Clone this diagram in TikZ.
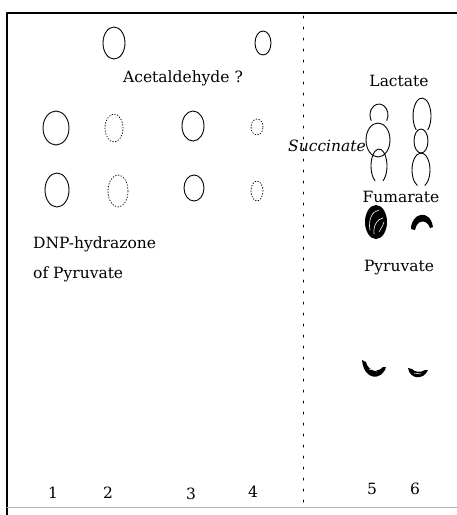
\documentclass[tikz,border=0pt]{standalone}
\usepackage{fontspec}
\setmainfont{DejaVu Serif}
\usepackage{tikz}

\begin{document}
\begin{tikzpicture}[x=1pt, y=-1pt, line join=round, line cap=round]
      \tikzset{
        spot/.style={line width=0.9pt},
        faintspot/.style={line width=0.8pt, dotted},
        lbl/.style={font=\fontsize{15.5}{18}\selectfont, inner sep=0pt}
      }
      \useasboundingbox (0,0) rectangle (457,515);

      % Frame and lane divider
      \draw[line width=1.4pt] (7,515) -- (7,13) -- (457,13);
      \draw[gray!60, line width=0.6pt] (7,507) -- (457,507);
      \draw[line width=1pt, dash pattern=on 2pt off 9pt] (303,16) -- (303,510);

      % Acetaldehyde
      \draw[spot] (114,43) ellipse[x radius=11pt, y radius=16pt];
      \draw[spot] (263,43) ellipse[x radius=8pt, y radius=12pt];
      \node[lbl] (acet) at (183,78) {Acetaldehyde ?};

      % Upper row (lanes 1-4)
      \draw[spot] (56,128) ellipse[x radius=13pt, y radius=17pt];
      \draw[faintspot] (114,128) ellipse[x radius=9pt, y radius=14pt];
      \draw[spot] (193,126) ellipse[x radius=11pt, y radius=15pt];
      \draw[faintspot] (257,127) ellipse[x radius=6pt, y radius=8pt];
      % Lower row (lanes 1-4)
      \draw[spot] (57,190) ellipse[x radius=12pt, y radius=17pt];
      \draw[faintspot] (118,191) ellipse[x radius=10pt, y radius=16pt];
      \draw[spot] (194,188) ellipse[x radius=10pt, y radius=13pt];
      \draw[faintspot] (257,191) ellipse[x radius=6pt, y radius=10pt];

      \node[lbl, anchor=west] (dnp) at (33,244) {DNP-hydrazone};
      \node[lbl, anchor=west] (ofpyr) at (33,274) {of Pyruvate};

      % Lanes 5 and 6
      \node[lbl] (lact) at (399,81) {Lactate};
      \node[lbl] (succ) at (327,146) {\itshape Succinate};

      \draw[spot] ([shift={(-30:9pt and 11pt)}]379,115) arc[start angle=-30, end angle=210, x radius=9pt, y radius=11pt];
      \draw[spot] (378,140) ellipse[x radius=12pt, y radius=17pt];
      \draw[spot] ([shift={(-60:8pt and 17pt)}]379,166) arc[start angle=-60, end angle=240, x radius=8pt, y radius=17pt];

      \draw[spot] ([shift={(-50:9pt and 18pt)}]422,116) arc[start angle=-50, end angle=230, x radius=9pt, y radius=18pt];
      \draw[spot] (421,141) ellipse[x radius=7pt, y radius=12pt];
      \draw[spot] ([shift={(-65:9pt and 17pt)}]421,170) arc[start angle=-65, end angle=245, x radius=9pt, y radius=17pt];

      \node[lbl] (fum) at (401,197) {Fumarate};

      % dark spots
      \fill (376,222) ellipse[x radius=11pt, y radius=17pt];
      \draw[white, line width=0.6pt] (370,230) .. controls (368,220) and (372,211) .. (379,210);
      \draw[white, line width=0.6pt] (374,234) .. controls (373,226) and (377,219) .. (383,218);
      \draw[white, line width=0.5pt] (379,232) .. controls (381,228) and (383,226) .. (384,222);
      \fill (411,229) .. controls (411,213) and (430,208) .. (433,227) -- (430,228) .. controls (427,219) and (417,219) .. (415,230) -- cycle;

      \node[lbl] (pyr) at (399,268) {Pyruvate};

      \fill (362,360) -- (366,362) .. controls (368,371) and (378,373) .. (383,367) -- (386,367) .. controls (382,381) and (364,381) .. (362,360) -- cycle;
      \draw[white, line width=0.6pt] (369,369) -- (377,371);
      \fill (408,368) -- (412,369) .. controls (414,372) and (421,373) .. (425,370) -- (428,370) .. controls (424,380) and (410,380) .. (408,368) -- cycle;
      \draw[white, line width=0.5pt] (414,373) -- (421,374);

      % lane numbers
      \node[lbl] (n1) at (53,493) {1};
      \node[lbl] (n2) at (108,493) {2};
      \node[lbl] (n3) at (191,494) {3};
      \node[lbl] (n4) at (253,492) {4};
      \node[lbl] (n5) at (372,489) {5};
      \node[lbl] (n6) at (415,489) {6};
    
    \end{tikzpicture}
\end{document}
